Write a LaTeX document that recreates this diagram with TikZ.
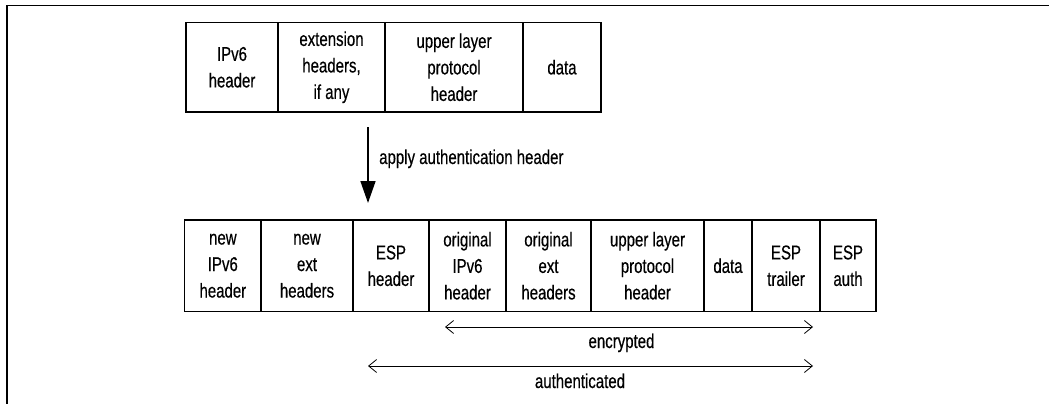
\documentclass[tikz,border=0pt]{standalone}
\usepackage{fontspec}
\setmainfont[FakeStretch=0.75,FakeBold=0.4]{Liberation Sans}
\usetikzlibrary{arrows.meta}
\begin{document}
\begin{tikzpicture}[x=1pt,y=-1pt,
  cell/.style={draw, line width=1.5pt, inner sep=0pt,
    align=center, font=\fontsize{20}{26.5}\selectfont},
  toprow/.style={cell, minimum height=89.5pt},
  botrow/.style={cell, minimum height=91.5pt},
  lbl/.style={font=\fontsize{20}{26.5}\selectfont, inner sep=0pt},
  span/.style={line width=0.8pt,
    {Straight Barb[length=8pt,width=13pt]}-{Straight Barb[length=8pt,width=13pt]}}]
  \useasboundingbox (0,0) rectangle (1049,404);
  % open frame: top and left edges only
  \draw[line width=1.6pt] (1049,5.5) -- (7,5.5) -- (7,404);

  % original packet
  \node[toprow, minimum width=92pt]  (t1) at (232,67.25)   {IPv6\\header};
  \node[toprow, minimum width=107pt] (t2) at (331.5,67.25) {extension\\headers,\\if any};
  \node[toprow, minimum width=138pt] (t3) at (454,67.25)   {upper layer\\protocol\\header};
  \node[toprow, minimum width=78pt]  (t4) at (562,67.25)   {data};

  % transformation arrow
  \coordinate (a1) at (368,127);
  \coordinate (a2) at (368,203);
  \draw[line width=1.6pt, -{Triangle[length=22pt,width=15pt]}] (a1) -- (a2);
  \node[lbl, anchor=base west] (alab) at (379,164) {apply authentication header};

  % ESP-protected packet
  \node[botrow, minimum width=76.3pt] (b1) at (222.85,265.75) {new\\IPv6\\header};
  \node[botrow, minimum width=92pt]   (b2) at (307,265.75)    {new\\ext\\headers};
  \node[botrow, minimum width=76pt]   (b3) at (391,265.75)    {ESP\\header};
  \node[botrow, minimum width=77pt]   (b4) at (467.5,265.75)  {original\\IPv6\\header};
  \node[botrow, minimum width=85pt]   (b5) at (548.5,265.75)  {original\\ext\\headers};
  \node[botrow, minimum width=113pt]  (b6) at (647.5,265.75)  {upper layer\\protocol\\header};
  \node[botrow, minimum width=48pt]   (b7) at (728,265.75)    {data};
  \node[botrow, minimum width=68pt]   (b8) at (786,265.75)    {ESP\\trailer};
  \node[botrow, minimum width=56pt]   (b9) at (848,265.75)    {ESP\\auth};

  % coverage spans
  \coordinate (e1) at (445,327);
  \coordinate (e2) at (813,327);
  \draw[span] (e1) -- (e2);
  \node[lbl, anchor=base] (elab) at (621.5,348) {encrypted};
  \coordinate (u1) at (368,366);
  \coordinate (u2) at (813,366);
  \draw[span] (u1) -- (u2);
  \node[lbl, anchor=base] (ulab) at (580,388) {authenticated};
\end{tikzpicture}
\end{document}
